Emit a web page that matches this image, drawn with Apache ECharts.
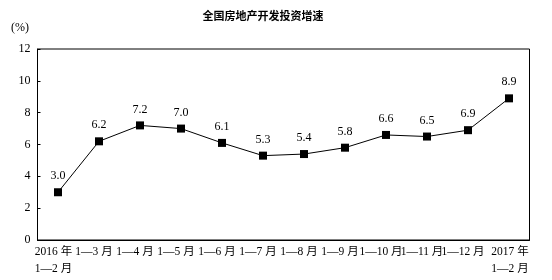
<!DOCTYPE html>
<html><head><meta charset="utf-8">
<script src="https://cdn.jsdelivr.net/npm/echarts@6/dist/echarts.min.js"></script>
<style>html,body{margin:0;padding:0;background:#fff}#c{width:552px;height:280px}</style>
</head><body><div id="c"></div>
<script>
const categories = ['2016 年\n1—2 月','1—3 月','1—4 月','1—5 月','1—6 月','1—7 月','1—8 月','1—9 月','1—10 月','1—11 月','1—12 月','2017 年\n1—2 月'];
const values = [3.0, 6.2, 7.2, 7.0, 6.1, 5.3, 5.4, 5.8, 6.6, 6.5, 6.9, 8.9];
const yTicks = [0, 2, 4, 6, 8, 10, 12];
const FONT = '"Liberation Serif", "Noto Sans CJK SC", serif';
const XF = 11.5;
const chart = echarts.init(document.getElementById('c'));
chart.setOption({
  animation: false,
  title: {
    text: '全国房地产开发投资增速', left: 258, top: 5, textAlign: 'center',
    textStyle: {fontSize: 11, fontWeight: 'bold', color: '#000', fontFamily: '"Noto Sans CJK SC", sans-serif'}
  },
  graphic: [{type: 'text', left: 11, top: 22, style: {text: '(%)', font: '12px ' + FONT, fill: '#000'}}],
  grid: {left: 37.5, right: 22.5, top: 49, bottom: 40, show: true, borderColor: '#000', borderWidth: 1, backgroundColor: 'transparent'},
  xAxis: {
    type: 'category', data: categories, boundaryGap: true,
    axisLine: {lineStyle: {color: '#000', width: 1}},
    axisTick: {inside: true, length: 3, lineStyle: {color: '#000'}},
    axisLabel: {
      interval: 0, margin: 3, color: '#000', fontSize: XF, fontFamily: FONT, lineHeight: 17,
      formatter: function (v, i) {
        if (i === 0) return '{l|' + v.split('\n').join('}\n{l|') + '}';
        if (i === categories.length - 1) return '{r|' + v.split('\n').join('}\n{r|') + '}';
        return '{c|' + v + '}';
      },
      rich: {
        l: {align: 'left', fontSize: XF, fontFamily: FONT, color: '#000', lineHeight: 17, padding: [0, 9, 0, 0]},
        r: {align: 'right', fontSize: XF, fontFamily: FONT, color: '#000', lineHeight: 17, padding: [0, 0, 0, 2]},
        c: {fontSize: XF, fontFamily: FONT, color: '#000', lineHeight: 17, padding: [0, 10, 0, 0]}
      }
    },
    splitLine: {show: false}
  },
  yAxis: {
    type: 'value', min: 0, max: 12, interval: 2,
    axisLine: {show: true, lineStyle: {color: '#000'}},
    axisTick: {show: true, inside: true, length: 3, lineStyle: {color: '#000'}},
    axisLabel: {color: '#000', fontSize: 12, fontFamily: FONT, margin: 7,
      formatter: function (v) { return yTicks.indexOf(v) >= 0 ? String(v) : ''; }},
    splitLine: {show: false}
  },
  series: [{
    type: 'line', data: values, symbol: 'rect', symbolSize: 8,
    lineStyle: {color: '#000', width: 1}, itemStyle: {color: '#000'},
    label: {show: true, position: 'top', distance: 6, color: '#000', fontSize: 12, fontFamily: FONT,
      formatter: function (p) { return p.value.toFixed(1); }}
  }]
});
</script></body></html>
